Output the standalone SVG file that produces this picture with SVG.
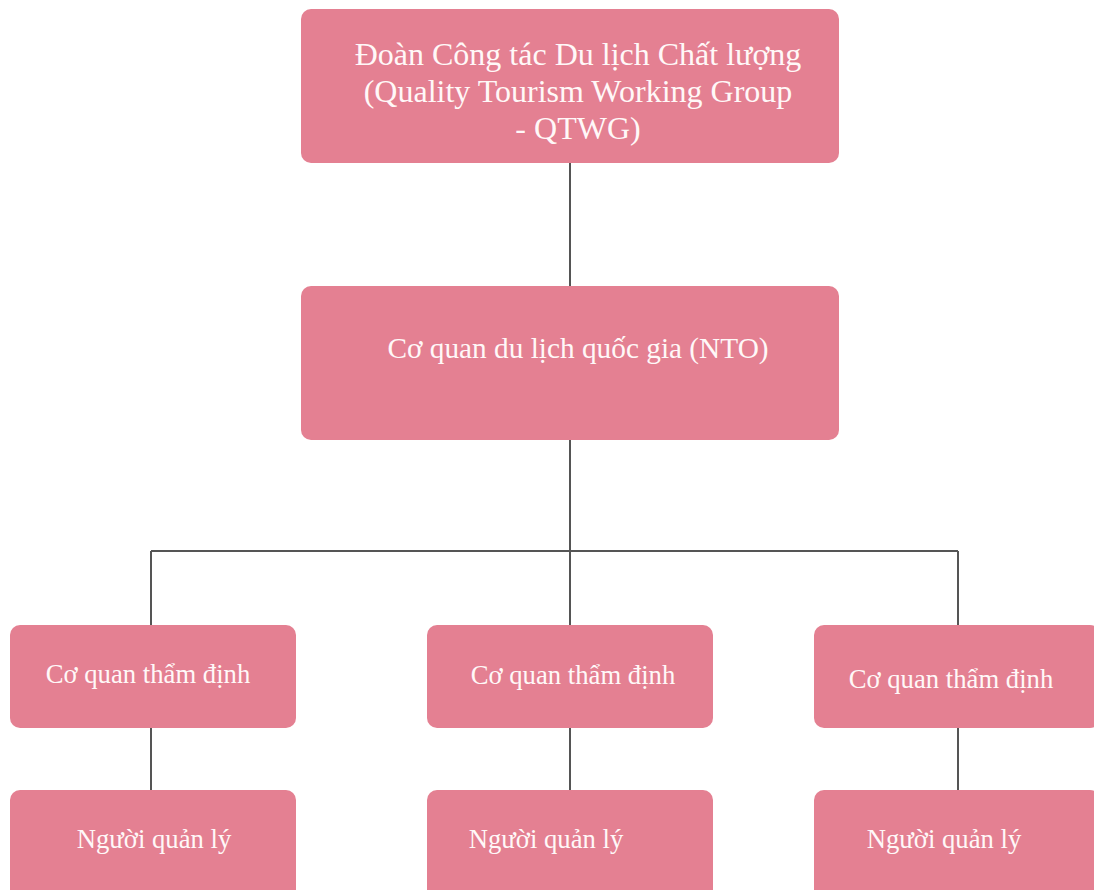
<svg xmlns="http://www.w3.org/2000/svg" width="1094" height="890" viewBox="0 0 1094 890">
<style>
.box{fill:#E48092;}
.t{font-family:"Liberation Serif","Times New Roman",serif;font-size:26.7px;fill:#FFF8F8;text-anchor:middle;}
.big{font-size:32px;}
.mid{font-size:29.3px;}
.c{stroke:#555;stroke-width:2;fill:none;}
</style>
<rect width="1094" height="890" fill="#ffffff"/>
<g id="connectors">
<path class="c" d="M570 163V286M570 440V551M151 551H958M151 551V625M570 551V625M958 551V625M151 728V790M570 728V790M958 728V790"/>
</g>
<g id="qtwg">
<rect class="box" x="301" y="9" width="538" height="154" rx="10"/>
<text class="t big" x="578" y="65">Đoàn Công tác Du lịch Chất lượng</text>
<text class="t big" x="578" y="102">(Quality Tourism Working Group</text>
<text class="t big" x="578" y="139">- QTWG)</text>
</g>
<g id="nto">
<rect class="box" x="301" y="286" width="538" height="154" rx="10"/>
<text class="t mid" x="578" y="358">Cơ quan du lịch quốc gia (NTO)</text>
</g>
<g id="ab1">
<rect class="box" x="10" y="625" width="286" height="103" rx="10"/>
<text class="t" x="148" y="683">Cơ quan thẩm định</text>
</g>
<g id="ab2">
<rect class="box" x="427" y="625" width="286" height="103" rx="10"/>
<text class="t" x="573" y="684">Cơ quan thẩm định</text>
</g>
<g id="ab3">
<rect class="box" x="814" y="625" width="286" height="103" rx="10"/>
<text class="t" x="951" y="688">Cơ quan thẩm định</text>
</g>
<g id="m1">
<rect class="box" x="10" y="790" width="286" height="110" rx="10"/>
<text class="t" x="154" y="848">Người quản lý</text>
</g>
<g id="m2">
<rect class="box" x="427" y="790" width="286" height="110" rx="10"/>
<text class="t" x="546" y="848">Người quản lý</text>
</g>
<g id="m3">
<rect class="box" x="814" y="790" width="286" height="110" rx="10"/>
<text class="t" x="944" y="848">Người quản lý</text>
</g>
</svg>
